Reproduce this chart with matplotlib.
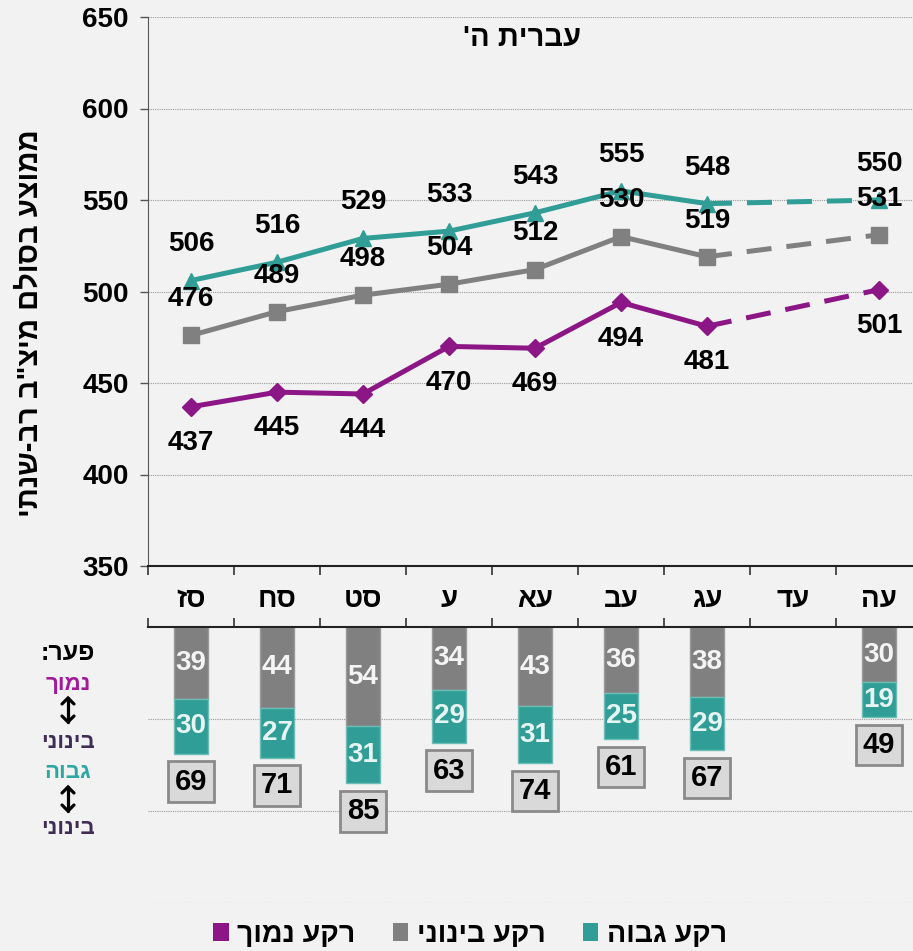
import numpy as np
import matplotlib
matplotlib.use("Agg")
import matplotlib.pyplot as plt
from matplotlib.patches import Patch
from matplotlib.lines import Line2D

# נתונים
YEARS = ["סז", "סח", "סט", "ע", "עא", "עב", "עג", "עד", "עה"]
HIGH = [506, 516, 529, 533, 543, 555, 548, np.nan, 550]
MID = [476, 489, 498, 504, 512, 530, 519, np.nan, 531]
LOW = [437, 445, 444, 470, 469, 494, 481, np.nan, 501]

GAP_LOW_MID = [39, 44, 54, 34, 43, 36, 38, np.nan, 30]
GAP_HIGH_MID = [30, 27, 31, 29, 31, 25, 29, np.nan, 19]
GAP_TOTAL = [69, 71, 85, 63, 74, 61, 67, np.nan, 49]

TITLE = "עברית ה'"
YLABEL = 'ממוצע בסולם מיצ"ב רב-שנתי'
LEGEND_LABELS = ["רקע נמוך", "רקע בינוני", "רקע גבוה"]

TEAL = "#309E96"
GRAY = "#808080"
PURPLE = "#8C1685"
BG = "#F2F2F2"

plt.rcParams["font.family"] = ["Liberation Sans", "DejaVu Sans"]
plt.rcParams["font.weight"] = "bold"


def rtl(s):
    # matplotlib has no bidi support: draw hebrew in visual order
    return s[::-1]


W, H = 913, 951


def px_box(l, t, r, b):
    return [l / W, 1 - b / H, (r - l) / W, (b - t) / H]


fig = plt.figure(figsize=(W / 100, H / 100), dpi=100, facecolor=BG)
ax = fig.add_axes(px_box(148, 17, 922, 566))
ax2 = fig.add_axes(px_box(148, 627, 922, 903))

x = np.arange(len(YEARS))
grid_kw = dict(color="#9A9A9A", linestyle=(0, (1, 1)), linewidth=0.8)

# ---- top: line chart
ax.set_facecolor("none")
ax.set_xlim(-0.5, len(YEARS) - 0.5)
ax.set_ylim(350, 650)
ax.set_yticks(np.arange(350, 651, 50))
ax.yaxis.grid(True, **grid_kw)
ax.set_axisbelow(True)
ax.set_xticks(np.arange(-0.5, len(YEARS), 1))
ax.set_xticklabels([])
ax.tick_params(axis="x", direction="out", length=6.5, width=1.2, color="#333333")
ax.tick_params(axis="y", direction="out", length=6, width=1, color="#555555",
               labelsize=20, pad=8)
for s in ["top", "right"]:
    ax.spines[s].set_visible(False)
ax.spines["left"].set_color("#555555")
ax.spines["bottom"].set_color("#222222")
ax.spines["bottom"].set_linewidth(1.5)

series = [(HIGH, TEAL, "^", 12, 26), (MID, GRAY, "s", 11, 26), (LOW, PURPLE, "D", 9.5, -26)]
for vals, col, mk, ms, off in series:
    v = np.array(vals, dtype=float)
    ax.plot(x[:7], v[:7], color=col, lw=3.6, marker=mk, ms=ms, zorder=3)
    ax.plot(x[[6, 8]], v[[6, 8]], color=col, lw=3.6, ls=(0, (5, 3)),
            solid_capstyle="butt", zorder=3)
    ax.plot(x[8], v[8], color=col, marker=mk, ms=ms, zorder=3)
    for i, val in enumerate(v):
        if np.isnan(val):
            continue
        ax.annotate(f"{val:.0f}", (i, val), xytext=(0, off), textcoords="offset points",
                    ha="center", va="center", fontsize=20, zorder=5)

for i, name in enumerate(YEARS):
    ax.annotate(rtl(name), (i, 0), xycoords=("data", "axes fraction"),
                xytext=(0, -24.5), textcoords="offset points",
                ha="center", va="center", fontsize=20)

# ---- bottom: gap bars
ax2.set_facecolor("none")
ax2.set_xlim(-0.5, len(YEARS) - 0.5)
ax2.set_ylim(150, 0)
ax2.set_yticks([50, 100, 150])
ax2.yaxis.grid(True, **grid_kw)
ax2.set_axisbelow(True)
ax2.tick_params(axis="y", length=0, labelleft=False)
ax2.xaxis.tick_top()
ax2.set_xticks(np.arange(-0.5, len(YEARS), 1))
ax2.set_xticklabels([])
ax2.tick_params(axis="x", direction="out", length=6.5, width=1.2, color="#333333")
for s in ["left", "right", "bottom"]:
    ax2.spines[s].set_visible(False)
ax2.spines["top"].set_color("#222222")
ax2.spines["top"].set_linewidth(1.5)

for i in range(len(YEARS)):
    a, b, t = GAP_LOW_MID[i], GAP_HIGH_MID[i], GAP_TOTAL[i]
    if np.isnan(t):
        continue
    ax2.bar(i, a, bottom=0, width=0.4, color=GRAY, edgecolor="#9A9A9A", lw=1)
    ax2.bar(i, b, bottom=a, width=0.4, color=TEAL, edgecolor="#6DBDB7", lw=1)
    ax2.text(i, a / 2, f"{a:.0f}", ha="center", va="center", fontsize=20, color="#F4F4F4")
    ax2.text(i, a + b / 2, f"{b:.0f}", ha="center", va="center", fontsize=20, color="#E6F5F3")
    ax2.annotate(f"{t:.0f}", (i, t), xytext=(0, -20), textcoords="offset points",
                 ha="center", va="center", fontsize=21, color="black",
                 bbox=dict(boxstyle="square,pad=0.22", fc="#D9D9D9", ec="#8A8A8A", lw=2))

# ---- side key
side = [("פער:", "black", 653, 18),
        ("נמוך", "#A3199B", 684, 16),
        ("בינוני", "#3F2D55", 742, 16),
        ("גבוה", "#2EA6A2", 772, 16),
        ("בינוני", "#3F2D55", 829, 16)]
for txt, col, ypx, fs in side:
    fig.text(68 / W, 1 - ypx / H, rtl(txt), ha="center", va="center",
             fontsize=fs, color=col)


def double_arrow(xc, ymid, half=12, hw=6, hl=6):
    # vertical two-headed arrow, in figure pixels (y measured from top)
    segs = [([xc, xc], [ymid - half, ymid + half]),
            ([xc - hw, xc, xc + hw], [ymid - half + hl, ymid - half, ymid - half + hl]),
            ([xc - hw, xc, xc + hw], [ymid + half - hl, ymid + half, ymid + half - hl])]
    for xs, ys in segs:
        fig.add_artist(Line2D([v / W for v in xs], [1 - v / H for v in ys],
                              transform=fig.transFigure, color="black", lw=2.3,
                              solid_capstyle="round", solid_joinstyle="miter"))


double_arrow(68, 710)
double_arrow(68, 799)

fig.text(522 / W, 1 - 38 / H, rtl(TITLE), ha="center", va="center", fontsize=21)
fig.text(30 / W, 1 - 323 / H, rtl(YLABEL), ha="center", va="center",
         rotation=90, fontsize=21)

handles = [Patch(fc=PURPLE), Patch(fc=GRAY), Patch(fc=TEAL)]
fig.legend(handles, [rtl(s) for s in LEGEND_LABELS], loc="center",
           bbox_to_anchor=(470 / W, 1 - 935 / H), ncol=3, frameon=False,
           fontsize=20.5, handlelength=0.55, handleheight=0.55, handletextpad=0.3,
           columnspacing=1.3)

fig.savefig("out.png", dpi=100, facecolor=BG)
